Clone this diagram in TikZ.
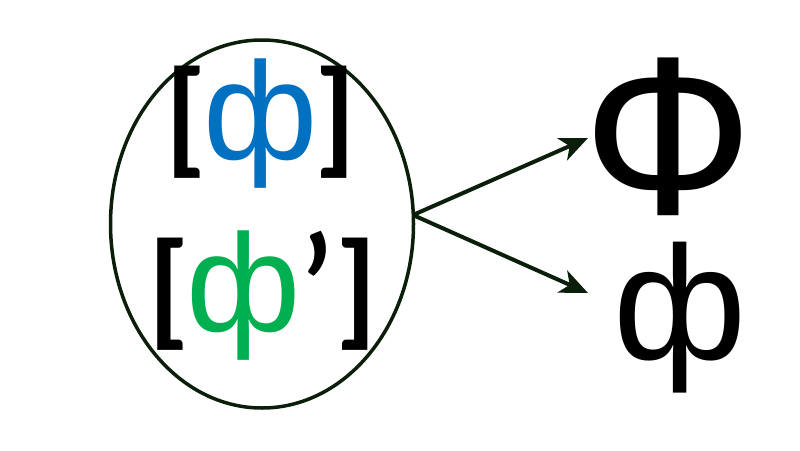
\documentclass[tikz,border=0pt]{standalone}
\usepackage{fontspec}
\setmainfont{Liberation Sans}
\newfontfamily\calfont{Carlito}
\usetikzlibrary{shapes.geometric,arrows.meta}
\definecolor{lineclr}{HTML}{0A1E0A}
\definecolor{phiblue}{HTML}{0070C0}
\definecolor{phigreen}{HTML}{00B050}
\newcommand{\brk}{\calfont\bfseries\fontsize{128}{140}\selectfont}
\newcommand{\smallphi}{\rmfamily\mdseries\fontsize{139}{150}\selectfont}
\newcommand{\primemark}{\raisebox{-16pt}{\calfont\mdseries\fontsize{165}{170}\selectfont ’}}
\tikzset{
  bigtext/.style={inner sep=0pt, text=black},
  conn/.style={draw=lineclr, line width=4pt, -{Stealth[length=28pt,width=24pt,inset=8pt]}},
}
\begin{document}
\begin{tikzpicture}[x=1pt,y=-1pt]
\path[use as bounding box, fill=white] (0,0) rectangle (800,450);
\node[ellipse, draw=lineclr, line width=3.5pt, minimum width=303pt, minimum height=368pt, inner sep=0pt] (E) at (262,224) {};
\node[bigtext] (A) at (261,124) {\brk[\kern-4pt\textcolor{phiblue}{\smallphi ф}\kern-3pt]};
\node[bigtext] (B) at (263,296) {\brk[\kern-4pt\textcolor{phigreen}{\smallphi ф}\kern-4pt\primemark\kern-2pt]};
\node[bigtext, font=\fontsize{226}{230}\selectfont] (C) at (668,137) {Ф};
\node[bigtext, font=\fontsize{162}{170}\selectfont] (D) at (680,318) {ф};
\coordinate (S) at (413,215);
\coordinate (T1) at (588,138);
\coordinate (T2) at (588,293);
\draw[conn] (S) -- (T1);
\draw[conn] (S) -- (T2);
\end{tikzpicture}
\end{document}
